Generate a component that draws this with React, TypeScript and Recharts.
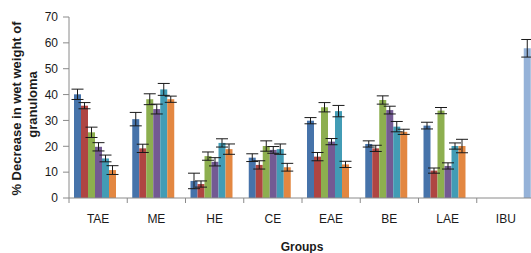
import React from "react";
import { Bar, BarChart, ErrorBar, XAxis, YAxis } from "recharts";

const groups = ["TAE", "ME", "HE", "CE", "EAE", "BE", "LAE", "IBU"];

// six extract doses + ibuprofen standard (only in IBU group)
const dose1 = [40.1, 30.5, 6.6, 15.6, 29.9, 20.9, 28.0, null];
const dose1Err = [2.0, 2.6, 3.0, 1.5, 1.2, 1.2, 1.3, null];
const dose2 = [35.7, 19.2, 5.4, 12.8, 16.0, 19.2, 10.6, null];
const dose2Err = [1.2, 1.6, 1.2, 1.6, 1.6, 1.2, 1.0, null];
const dose3 = [25.4, 38.2, 16.2, 20.1, 35.1, 37.9, 33.8, null];
const dose3Err = [2.0, 2.1, 1.6, 2.0, 1.8, 1.6, 1.2, null];
const dose4 = [19.8, 34.4, 14.0, 18.6, 21.8, 34.0, 12.4, null];
const dose4Err = [1.6, 1.9, 1.6, 1.3, 1.2, 1.5, 1.2, null];
const dose5 = [15.3, 42.0, 21.3, 18.9, 33.6, 27.6, 20.1, null];
const dose5Err = [1.3, 2.3, 1.6, 2.0, 2.2, 2.0, 1.2, null];
const dose6 = [10.8, 38.2, 18.9, 11.9, 13.0, 25.6, 20.1, null];
const dose6Err = [1.7, 1.2, 2.0, 1.5, 1.2, 1.0, 2.6, null];
const ibu = [null, null, null, null, null, null, null, 57.9];
const ibuErr = [null, null, null, null, null, null, null, 3.4];

const yTicks = [0, 10, 20, 30, 40, 50, 60, 70];

const series = [
  { key: "d1", values: dose1, errors: dose1Err, color: "#4673AA" },
  { key: "d2", values: dose2, errors: dose2Err, color: "#AF4542" },
  { key: "d3", values: dose3, errors: dose3Err, color: "#8DAF4F" },
  { key: "d4", values: dose4, errors: dose4Err, color: "#735A93" },
  { key: "d5", values: dose5, errors: dose5Err, color: "#429CB5" },
  { key: "d6", values: dose6, errors: dose6Err, color: "#E38741" },
  { key: "ibu", values: ibu, errors: ibuErr, color: "#95B2D8" },
];

const data = groups.map((g, i) => {
  const row: Record<string, any> = { group: g };
  series.forEach((s) => {
    row[s.key] = s.values[i];
    row[`${s.key}Err`] = s.errors[i];
  });
  return row;
});

const CHART_W = 540;
const CHART_H = 253;
const Y_AXIS_W = 69;
const MARGIN = { top: 17, right: 5, bottom: 0, left: 0 };
const BAND = (CHART_W - MARGIN.left - MARGIN.right - Y_AXIS_W) / groups.length;
const FONT = "'Liberation Sans', Arial, sans-serif";
const AXIS_COLOR = "#8a8a8a";

function GroupTick(props: any) {
  const { x, y, payload } = props;
  const left = x - BAND / 2;
  return (
    <g>
      <line x1={left} x2={left} y1={y - 5} y2={y} stroke={AXIS_COLOR} />
      <text x={x} y={y} dy={20} textAnchor="middle" fontSize={12} fill="#1a1a1a" fontFamily={FONT}>
        {payload.value}
      </text>
    </g>
  );
}

function YLabel(props: any) {
  const { viewBox } = props;
  const cy = viewBox.y + viewBox.height / 2 + 1;
  return (
    <g fontFamily={FONT} fontWeight="bold" fontSize={13} fill="#1a1a1a" style={{ whiteSpace: "pre" }}>
      <text x={21} y={cy} textAnchor="middle" transform={`rotate(-90 21 ${cy})`}>
        {"% Decrease  in wet weight of"}
      </text>
      <text x={37} y={cy - 4} textAnchor="middle" transform={`rotate(-90 37 ${cy - 4})`}>
        granuloma
      </text>
    </g>
  );
}

export default function App() {
  return (
    <div
      style={{
        position: "absolute",
        left: 0,
        top: 0,
        width: 531,
        height: 253,
        overflow: "hidden",
        background: "#fff",
      }}
    >
      <BarChart
        width={CHART_W}
        height={CHART_H}
        data={data}
        margin={MARGIN}
        barCategoryGap={5}
        barGap={0}
      >
        <XAxis
          dataKey="group"
          height={55}
          tickSize={5}
          tickMargin={0}
          tickLine={false}
          tick={<GroupTick />}
          stroke={AXIS_COLOR}
          label={{
            value: "Groups",
            position: "insideBottom",
            offset: 2,
            fontSize: 12,
            fontWeight: "bold",
            fill: "#1a1a1a",
            fontFamily: FONT,
          }}
        />
        <YAxis
          width={Y_AXIS_W}
          domain={[0, 70]}
          ticks={yTicks}
          interval={0}
          tickSize={6}
          tickMargin={5}
          stroke={AXIS_COLOR}
          tick={{ fontSize: 12, fill: "#1a1a1a", fontFamily: FONT }}
          label={<YLabel />}
        />
        {series.map((s) => (
          <Bar key={s.key} dataKey={s.key} fill={s.color} isAnimationActive={false}>
            <ErrorBar dataKey={`${s.key}Err`} width={6} stroke="#1a1a1a" strokeWidth={1} />
          </Bar>
        ))}
      </BarChart>
    </div>
  );
}
